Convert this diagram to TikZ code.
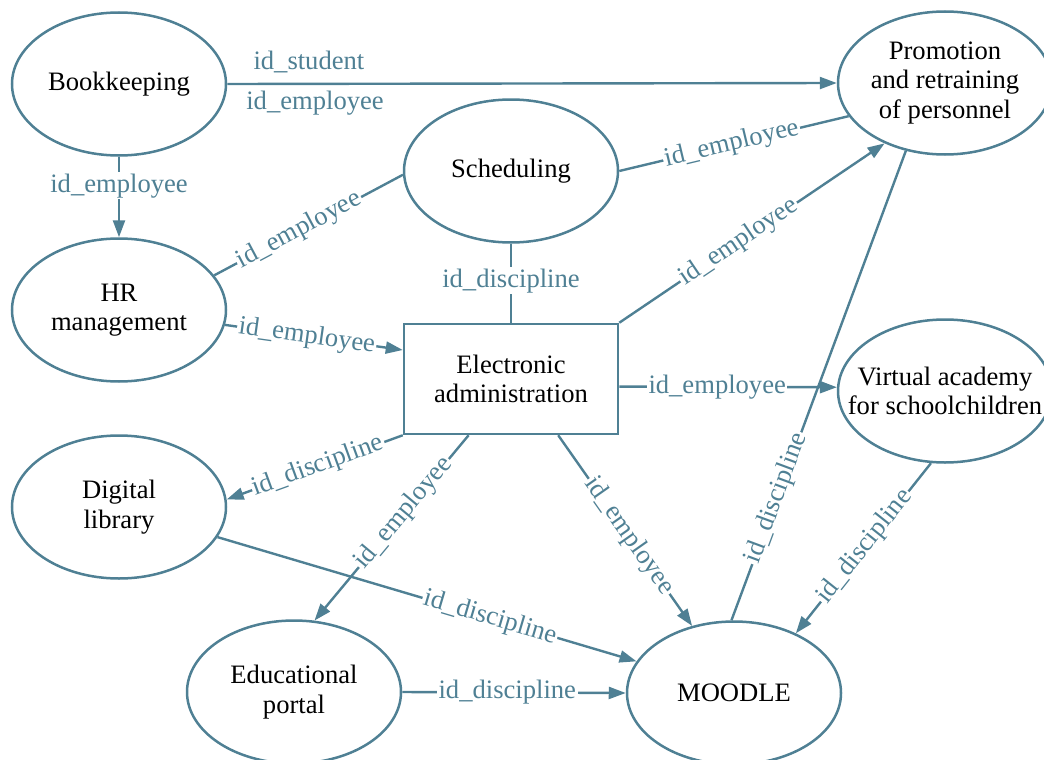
\documentclass[tikz,border=0pt]{standalone}
\usepackage{fontspec}
\setmainfont{Liberation Serif}
\usetikzlibrary{shapes.geometric,arrows.meta}
\definecolor{edgec}{RGB}{79,128,148}
\begin{document}
\begin{tikzpicture}[x=1pt,y=-1pt,
  txt/.style={font=\fontsize{26.6}{29.5}\selectfont},
  ell/.style={ellipse,draw=edgec,line width=2.5pt,minimum width=214pt,minimum height=143pt,inner sep=0pt,align=center,txt},
  box/.style={rectangle,draw=edgec,line width=2.5pt,minimum width=214pt,minimum height=110pt,inner sep=0pt,align=center,txt},
  conn/.style={draw=edgec,line width=2.4pt},
  arr/.style={conn,-{Triangle[length=17pt,width=12pt]}},
  lbl/.style={fill=white,text=edgec,inner sep=1.5pt,txt},
  plainlbl/.style={text=edgec,inner sep=1.5pt,txt},
]
\useasboundingbox (0,0) rectangle (1044,760);

\node[ell] (book) at (119,84) {Bookkeeping};
\node[ell] (prom) at (945,83) {Promotion\\and retraining\\of personnel};
\node[ell] (sched) at (511,171) {Scheduling};
\node[ell] (hr) at (119,310) {HR\\management};
\node[box] (ea) at (511,379) {Electronic\\administration};
\node[ell,inner xsep=-22pt] (va) at (945,391) {Virtual academy\\for schoolchildren};
\node[ell] (dl) at (119,507) {Digital\\library};
\node[ell] (ep) at (294,692) {Educational\\portal};
\node[ell] (moodle) at (734,693) {MOODLE};

% Bookkeeping -> Promotion
\draw[arr] (book.east) -- (prom.west)
  node[plainlbl,pos=0.134,yshift=22pt] {id\_student}
  node[plainlbl,pos=0.144,yshift=-19pt] {id\_employee};
% Bookkeeping -> HR
\draw[arr] (book.south) -- (hr.north)
  node[lbl,pos=0.36] {id\_employee};
% HR -- Scheduling
\draw[conn] (hr.20) -- (sched.182)
  node[lbl,pos=0.45,sloped] {id\_employee};
% Scheduling -- Promotion
\draw[conn] (sched.east) -- (prom.199)
  node[lbl,pos=0.49,sloped] {id\_employee};
% Scheduling -- Electronic administration
\draw[conn] (sched.south) -- (ea.north)
  node[lbl,pos=0.47] {id\_discipline};
% Electronic administration -> Promotion
\draw[arr] (ea.north east) -- (prom.225)
  node[lbl,pos=0.45,sloped] {id\_employee};
% HR -> Electronic administration
\draw[arr] (hr.-8) -- (ea.165)
  node[lbl,pos=0.46,sloped] {id\_employee};
% Electronic administration -> Virtual academy
\draw[arr] (ea.-4.8) -- (va.178.4)
  node[lbl,pos=0.45] {id\_employee};
% Promotion -- MOODLE
\draw[conn] (prom.240) -- (moodle.92)
  node[lbl,pos=0.74,sloped] {id\_discipline};
% Virtual academy -> MOODLE
\draw[arr] (va.259) -- (moodle.44)
  node[lbl,pos=0.49,sloped] {id\_discipline};
% Electronic administration -> Digital library
\draw[arr] (ea.south west) -- (dl.4)
  node[lbl,pos=0.48,sloped] {id\_discipline};
% Electronic administration -> Educational portal
\draw[arr] (ea.233) -- (ep.74)
  node[lbl,pos=0.42,sloped] {id\_employee};
% Electronic administration -> MOODLE
\draw[arr] (ea.-50.7) -- (moodle.122)
  node[lbl,pos=0.53,sloped] {id\_employee};
% Digital library -> MOODLE
\draw[arr] (dl.-17) -- (moodle.162)
  node[lbl,pos=0.65,sloped] {id\_discipline};
% Educational portal -> MOODLE
\draw[arr] (ep.east) -- (moodle.west)
  node[lbl,pos=0.47] {id\_discipline};
\end{tikzpicture}
\end{document}
